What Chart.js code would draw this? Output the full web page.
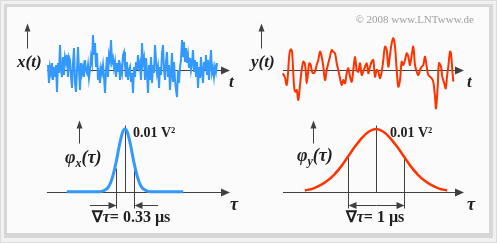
<!DOCTYPE html>
<html>
<head>
<meta charset="utf-8">
<script src="https://cdn.jsdelivr.net/npm/chart.js@4.4.0/dist/chart.umd.min.js"></script>
<style>
  html, body { margin: 0; padding: 0; background: #fff; }
  #frame { position: absolute; left: 0; top: 0; width: 495px; height: 241px; border: 1px solid #dcdcdc; background: #f1f1f1; }
  #inner { position: absolute; left: 3px; top: 3px; width: 482px; height: 226px; background: #fbfbfb;
           border-style: solid; border-color: #d7d7d7; border-width: 3px 4px 5px 3px; }
  #chart { position: absolute; left: 0; top: 0; }
</style>
</head>
<body>
<div id="frame"><div id="inner"></div></div>
<canvas id="chart" width="497" height="243"></canvas>
<script>
// fast noise x(t), one sample per step
const blueX = [5,-13,3,-3,7,-10,3,-7,5,-22,7,-3,25,0,-7,13,-5,13,8,15,-7,13,10,-7,-18,7,22,-13,-22,0,
  23,0,-20,7,-3,3,-7,10,0,-3,5,-8,0,13,7,35,15,27,3,17,-10,-3,-13,2,-3,5,-7,-23,0,13,
  -7,15,10,30,8,12,2,8,-7,7,-2,10,-10,2,-3,15,18,5,-7,8,-10,0,3,-12,-3,-23,
  3,-7,8,0,15,3,7,-10,27,7,12,-10,12,-3,-23,5,-10,13,-13,5,-3,25,10,-3,3,-18,3,-5,17,25,
  0,-10,8,18,-7,5,-20,-3,17,-12,8,-10,-20,-27,0,-13,3,10,30,13,28,8,22,7,15,2,12,0,7,20,
  -2,10,-7,8,-18,3,-8,13,-3,-13,8,0,15,-5,10,-10,5,20,-3,2,-7,3,-2,7];

// slower noise y(t)
const redT = [2.7,4.7,6.7,8,9.3,10.7,12,13.3,14.3,15.3,16.7,18.3,20,21.7,23.3,24.7,26,26.7,28,29.3,
  30.7,32,33.3,35,36.7,38.3,40,41.7,43.3,45,46.7,48.3,50,51.7,53.3,55,56.7,58.3,60,61.7,
  63.3,65,66.7,68.3,70,71.7,73.3,75,76.7,78.3,80,81.7,83.3,86.7,88.3,90,91.7,93.3,95,96.7,
  98.3,100,101.7,103.3,105,106.7,108.3,110,111.7,113.3,115,116.7,118.3,120,121.7,123.3,125,126.7,128.3,130,
  131.7,133.3,135,136.7,138.3,140,141.7,143.3,145,146.7,148.3,150,151.7,153.3,155,156,157.7,159,161,162.3,
  164.3,165.7,167,168.3,170,171,172.3,173.3];
const redX = [-3.3,-6.7,-15,-3.3,15,20.7,18.3,-3.3,-18.3,-21.7,-20,-30,-15,0,8.3,6.7,-3.3,-13.3,-3.3,6.7,
  5,-1.7,-3.3,-1.7,5,10,18.3,13.3,3.3,-10,0,6.7,13.3,20,18.3,16.7,6.7,0,-8.3,-15,
  -10,-13.3,-3.3,1.7,-6.7,-11.7,0,13.3,0,-1.7,6.7,-5,-1.7,6.7,-3.3,3.3,8.3,10,-6.7,0,
  -1.7,-8.3,-1.7,10,23.3,20,3.3,15,26.7,31.7,23.3,0,-16.7,-10,8.3,5,10,16.7,13.3,5,
  15,23.3,5,-1.7,-5,0,3.3,5,13.3,3.3,-5,-6.7,-8.3,-11.7,-26.7,-38.3,-16.7,6.7,3.3,-6.7,
  -13.3,-18.3,-6.7,3.3,18.3,16.7,0,-11.7];

// autocorrelation functions, tau in µs, value in units of 0.01 V²
const acfTauX = [-1.04,-0.45,-0.4,-0.35,-0.3,-0.25,-0.2,-0.15,-0.1,-0.05,0,0.05,0.1,0.15,0.2,0.25,0.3,0.35,0.4,0.45,1.04];
const acfX    = [0,0,0.01,0.03,0.07,0.16,0.31,0.51,0.74,0.93,1,0.93,0.74,0.51,0.31,0.16,0.07,0.03,0.01,0,0];
const acfTauY = [-1.27,-1.125,-1,-0.875,-0.75,-0.625,-0.5,-0.375,-0.25,-0.125,0,0.125,0.25,0.375,0.5,0.625,0.75,0.875,1,1.125,1.27];
const acfY    = [0.02,0.05,0.1,0.17,0.27,0.4,0.56,0.72,0.86,0.96,1,0.96,0.86,0.72,0.56,0.4,0.27,0.17,0.1,0.05,0.02];
const eqWidth = [0.33, 1];           // equivalent widths in µs
const peakLabel = '0.01 V²';

const BLUE = '#3399ff';
const RED = '#ff3300';
const AXIS = '#404040';
const TXT = '#202020';
const SERIF = '"Liberation Serif", "Times New Roman", serif';

function arrow (ctx, x1, y1, x2, y2, len, half) {
  const a = Math.atan2(y2 - y1, x2 - x1);
  const c = Math.cos(a), s = Math.sin(a);
  ctx.beginPath();
  ctx.moveTo(x1, y1);
  ctx.lineTo(x2 - c * len * 0.7, y2 - s * len * 0.7);
  ctx.stroke();
  ctx.beginPath();
  ctx.moveTo(x2, y2);
  ctx.lineTo(x2 - c * len + s * half, y2 - s * len - c * half);
  ctx.lineTo(x2 - c * len - s * half, y2 - s * len + c * half);
  ctx.closePath();
  ctx.fill();
}

function line (ctx, x1, y1, x2, y2) {
  ctx.beginPath(); ctx.moveTo(x1, y1); ctx.lineTo(x2, y2); ctx.stroke();
}

// draw text made of styled pieces
function rich (ctx, x, y, parts) {
  for (const p of parts) {
    ctx.font = p.f;
    ctx.fillText(p.t, x, y + (p.dy || 0));
    x += ctx.measureText(p.t).width + (p.dx || 0);
  }
}

const bi = (sz) => 'italic bold ' + sz + 'px ' + SERIF;
const b = (sz) => 'bold ' + sz + 'px ' + SERIF;

const decor = {
  id: 'decor',
  beforeDatasetsDraw (chart) {
    const ctx = chart.ctx, s = chart.scales;
    ctx.save();
    ctx.strokeStyle = AXIS; ctx.fillStyle = AXIS; ctx.lineWidth = 1;
    // signal panels
    const sig = [[s.x1, -1, 182, -21], [s.x2, 3, 184, -19]];
    for (const [xs, a0, a1, up] of sig) {
      const y0 = Math.round(s.y1.getPixelForValue(0)) + 0.5;
      arrow(ctx, xs.getPixelForValue(a0), y0, xs.getPixelForValue(a1), y0, 9, 4);
      const ux = Math.round(xs.getPixelForValue(up)) + 0.5;
      arrow(ctx, ux, y0 - 22, ux, y0 - 47, 8, 3);
    }
    // acf panels
    const acf = [[s.x3, -78, 105, -46, 24, 0], [s.x4, -93, 88, -63, 35, 1]];
    for (const [xs, a0, a1, up, side, k] of acf) {
      const y0 = Math.round(s.y3.getPixelForValue(0)) + 0.5;
      const c = xs.getPixelForValue(0);
      arrow(ctx, c + a0, y0, c + a1, y0, 9, 4);
      const ux = Math.round(c + up) + 0.5;
      arrow(ctx, ux, y0 - 49, ux, y0 - 72, 8, 3);
      const cx = Math.round(c) + 0.5;
      line(ctx, cx, y0 - 67, cx, y0);
      const l = Math.round(xs.getPixelForValue(-eqWidth[k] / 2)) + 0.5;
      const r = Math.round(xs.getPixelForValue(eqWidth[k] / 2)) + 0.5;
      line(ctx, l, y0 - side, l, y0 + 16);
      line(ctx, r, y0 - side, r, y0 + 16);
      const ay = y0 + 13;
      if (k === 0) {
        arrow(ctx, c - 35, ay, l, ay, 8, 3.5);
        arrow(ctx, c + 33, ay, r, ay, 8, 3.5);
      } else {
        arrow(ctx, (l + r) / 2, ay, l, ay, 8, 3.5);
        arrow(ctx, (l + r) / 2, ay, r, ay, 8, 3.5);
      }
    }
    ctx.restore();
  },
  afterDatasetsDraw (chart) {
    const ctx = chart.ctx, s = chart.scales;
    ctx.save();
    ctx.fillStyle = '#a0a0a0';
    ctx.font = '11px ' + SERIF;
    ctx.textAlign = 'right';
    ctx.fillText('© 2008 www.LNTwww.de', 474, 23);
    ctx.textAlign = 'left';
    ctx.fillStyle = TXT;
    const ys = s.y1.getPixelForValue(0);
    rich(ctx, s.x1.getPixelForValue(-31), ys - 3, [{ t: 'x(t)', f: bi(17) }]);
    rich(ctx, s.x1.getPixelForValue(181), ys + 17, [{ t: 't', f: bi(17) }]);
    rich(ctx, s.x2.getPixelForValue(-29), ys - 3, [{ t: 'y(t)', f: bi(17) }]);
    rich(ctx, s.x2.getPixelForValue(187), ys + 17, [{ t: 't', f: bi(17) }]);
    const ya = s.y3.getPixelForValue(0);
    const c3 = s.x3.getPixelForValue(0), c4 = s.x4.getPixelForValue(0);
    rich(ctx, c3 - 60, ya - 29, [{ t: 'φ', f: bi(18) }, { t: 'x', f: bi(12), dy: 4 }, { t: '(τ)', f: bi(18) }]);
    rich(ctx, c4 - 79, ya - 31, [{ t: 'φ', f: bi(18) }, { t: 'y', f: bi(12), dy: 4 }, { t: '(τ)', f: bi(18) }]);
    rich(ctx, c3 + 105, ya + 18, [{ t: 'τ', f: bi(18) }]);
    rich(ctx, c4 + 91, ya + 18, [{ t: 'τ', f: bi(18) }]);
    rich(ctx, c3 + 8, ya - 55, [{ t: peakLabel, f: b(14) }]);
    rich(ctx, c4 + 14, ya - 55, [{ t: peakLabel, f: b(14) }]);
    const dl = [[c3 + 6, eqWidth[0] + ' µs'], [c4 - 1, eqWidth[1] + ' µs']];
    for (const [cx, txt] of dl) {
      const parts = [{ t: '∇', f: b(16) }, { t: 'τ', f: bi(16) }, { t: '= ' + txt, f: b(16) }];
      let w = 0;
      for (const p of parts) { ctx.font = p.f; w += ctx.measureText(p.t).width; }
      rich(ctx, cx - w / 2, ya + 30, parts);
    }
    ctx.restore();
  }
};

const ctx = document.getElementById('chart').getContext('2d');
new Chart(ctx, {
  type: 'line',
  data: {
    datasets: [
      { data: blueX.map((v, i) => ({ x: i, y: v })), xAxisID: 'x1', yAxisID: 'y1', borderColor: BLUE, borderWidth: 2, pointRadius: 0, tension: 0 },
      { data: redT.map((t, i) => ({ x: t, y: redX[i] })), xAxisID: 'x2', yAxisID: 'y1', borderColor: RED, borderWidth: 2, pointRadius: 0, tension: 0.35 },
      { data: acfTauX.map((t, i) => ({ x: t, y: acfX[i] })), xAxisID: 'x3', yAxisID: 'y3', borderColor: BLUE, borderWidth: 3, pointRadius: 0, cubicInterpolationMode: 'monotone' },
      { data: acfTauY.map((t, i) => ({ x: t, y: acfY[i] })), xAxisID: 'x4', yAxisID: 'y3', borderColor: RED, borderWidth: 2.5, pointRadius: 0, cubicInterpolationMode: 'monotone' }
    ]
  },
  options: {
    responsive: false,
    animation: false,
    events: [],
    layout: { padding: 0 },
    plugins: { legend: { display: false }, tooltip: { enabled: false } },
    scales: {
      x1: { type: 'linear', display: false, min: -48, max: 449 },
      x2: { type: 'linear', display: false, min: -280, max: 217 },
      x3: { type: 'linear', display: false, min: -125 / 56, max: 372 / 56 },
      x4: { type: 'linear', display: false, min: -376 / 56, max: 121 / 56 },
      y1: { type: 'linear', display: false, min: -173, max: 70 },
      y3: { type: 'linear', display: false, min: -51.3 / 62.7, max: 191.7 / 62.7 }
    }
  },
  plugins: [decor]
});
</script>
</body>
</html>
